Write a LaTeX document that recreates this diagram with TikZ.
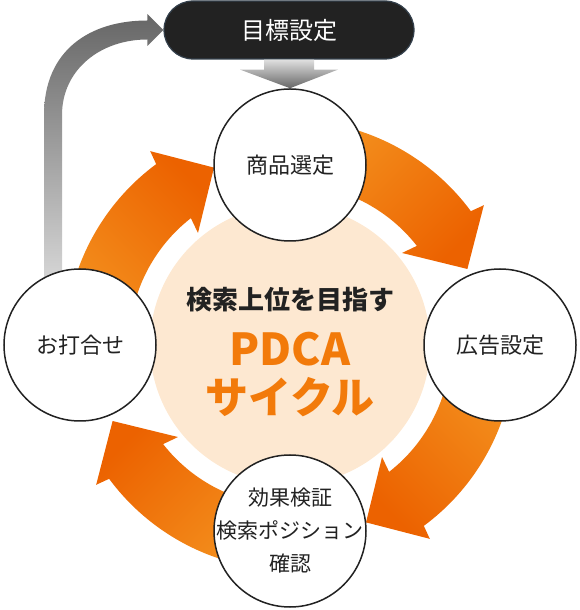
\documentclass[tikz,border=0pt]{standalone}
\usepackage{fontspec}
\setmainfont{Noto Sans CJK JP}
\usepackage{tikz}
\usetikzlibrary{positioning,calc}
\usepackage{xcolor}
\definecolor{ink}{HTML}{222222}
\definecolor{boxline}{HTML}{34404C}
\definecolor{peach}{HTML}{FDE8D1}
\definecolor{orlight}{HTML}{F4921F}
\definecolor{ordark}{HTML}{EC6200}
\definecolor{ortext}{HTML}{F27A0A}
\definecolor{graydark}{HTML}{666666}
\definecolor{graylight}{HTML}{DADADA}

\begin{document}
\begin{tikzpicture}[x=1pt, y=1pt,
    stage/.style={circle, draw=ink, line width=1.5pt, fill=white, minimum size=152pt, inner sep=0pt},
    caption/.style={font=\fontsize{22}{33}\selectfont, text=ink, align=center},
    goalbox/.style={rectangle, rounded corners=29pt, fill=ink, draw=boxline, line width=1.2pt,
        minimum width=250pt, minimum height=58pt, text=white, font=\fontsize{24}{24}\selectfont}]
    \useasboundingbox (0,0) rectangle (580,610);

    % Centre disc and goal box
    \node[circle, fill=peach, minimum size=280pt, inner sep=0pt] (hub) at (290,265) {};
    \node[goalbox] (goal) at (289,580) {目標設定};

    % Cycle arrows (clockwise, one per target angle)
    \foreach \t [evaluate=\t as \sa using \t+45] in {90,0,-90,180} {
        \shade[top color=orlight, bottom color=ordark, shading angle=\sa]
            ($(hub)+({\t+88}:225)$) arc[start angle=\t+88, end angle=\t+36.5, radius=225]
            -- ($(hub)+({\t+35.8}:239)$) -- ($(hub)+({\t+23.2}:193)$)
            -- ($(hub)+({\t+39.4}:145)$) -- ($(hub)+({\t+38}:161)$)
            arc[start angle=\t+38, end angle=\t+88, radius=161] -- cycle;
    }

    % Grey arrow back to the goal (its foot hides under the last step)
    \begin{scope}[top color=graydark, bottom color=graylight]
        \shade (44,320) -- (44,495) .. controls (44,560) and (90,589.5) .. ([xshift=-16pt,yshift=9.5pt]goal.west)
            -- ([xshift=-16pt,yshift=16pt]goal.west) -- (goal.west)
            -- ([xshift=-16pt,yshift=-16pt]goal.west) -- ([xshift=-16pt,yshift=-9.5pt]goal.west)
            .. controls (100,570.5) and (62,540) .. (62,495) -- (62,320) -- cycle;
    \end{scope}

    % The four steps
    \node[stage] (select) at (290,445) {};
    \node[stage] (adset) at (500,265) {};
    \node[stage] (verify) at (290,79) {};
    \node[stage] (meet) at (80,265) {};

    % Grey arrow down to the first step
    \begin{scope}[top color=graylight!85!white, bottom color=graydark]
        \shade ([xshift=-25pt]goal.south) -- ([xshift=-25pt,yshift=-10pt]goal.south)
            -- ([xshift=-49pt,yshift=-10pt]goal.south) -- (select.north)
            -- ([xshift=49pt,yshift=-10pt]goal.south) -- ([xshift=25pt,yshift=-10pt]goal.south)
            -- ([xshift=25pt]goal.south) -- cycle;
    \end{scope}

    % Labels
    \node[caption] (selecttext) at (select) {商品選定};
    \node[caption] (adsettext) at (adset) {広告設定};
    \node[caption] (meettext) at (meet) {お打合せ};
    \node[caption, font=\fontsize{21}{33}\selectfont] (verifytext) at (verify) {効果検証\\検索ポジション\\確認};

    \node[font=\bfseries\fontsize{26}{26}\selectfont, text=ink] (aim) at (290,310) {検索上位を目指す};
    \node[font=\bfseries\fontsize{44}{44}\selectfont, text=ortext] (pdca) at (290,261) {PDCA};
    \node[font=\bfseries\fontsize{43}{43}\selectfont, text=ortext] (cycle) at (290,213) {サイクル};
\end{tikzpicture}
\end{document}
